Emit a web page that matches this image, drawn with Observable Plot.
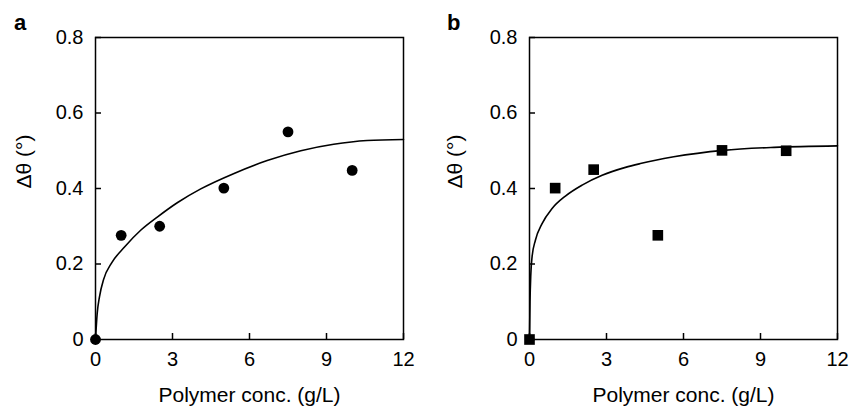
<!DOCTYPE html>
<html><head><meta charset="utf-8">
<script src="https://cdn.jsdelivr.net/npm/d3@7"></script>
<script src="https://cdn.jsdelivr.net/npm/@observablehq/plot@0.6"></script>
<style>
body{margin:0;background:#fff;font-family:"Liberation Sans",Arial,sans-serif;}
#wrap{position:relative;width:849px;height:409px;display:flex;}
.lab{position:absolute;font-weight:bold;font-size:22px;line-height:22px;color:#000;}
</style></head><body>
<div id="wrap"><div id="pa"></div><div id="pb"></div>
<div class="lab" style="left:14px;top:12px">a</div>
<div class="lab" style="left:447px;top:12px">b</div></div>
<script>
// measured data
const concA  = [0, 1, 2.5, 5, 7.5, 10];
const thetaA = [0, 0.276, 0.300, 0.401, 0.550, 0.448];
const concB  = [0, 1, 2.5, 5, 7.5, 10];
const thetaB = [0, 0.401, 0.450, 0.276, 0.501, 0.500];
// fitted curves
const fitAx = [0, 0.066, 0.155, 0.32, 0.63, 1.13, 1.77, 2.42, 3.2, 4.1, 5.4, 6.69, 8.0, 9.28, 10.58, 12];
const fitAy = [0, 0.069, 0.113, 0.160, 0.203, 0.245, 0.290, 0.325, 0.363, 0.399, 0.440, 0.474, 0.500, 0.517, 0.527, 0.530];
const fitBx = [0, 0.02, 0.05, 0.1, 0.23, 0.49, 0.88, 1.4, 2.05, 2.83, 3.74, 4.32, 4.91, 5.62, 7.55, 9.53, 12];
const fitBy = [0, 0.100, 0.170, 0.219, 0.263, 0.307, 0.347, 0.380, 0.409, 0.435, 0.456, 0.466, 0.475, 0.484, 0.501, 0.509, 0.513];
const xTicks = [0, 3, 6, 9, 12];
const yTicks = [0, 0.2, 0.4, 0.6, 0.8];
const xLabel = "Polymer conc. (g/L)";
const yLabel = "Δθ (°)";

const zipXY = (xs, ys) => xs.map((x, i) => ({x, y: ys[i]}));

function panel({width, marginLeft, marginRight, pts, fit, symbol, r, yTitleDx}) {
  return Plot.plot({
    width, height: 409, marginLeft, marginRight, marginTop: 37, marginBottom: 70,
    style: {fontFamily: "Liberation Sans, Arial, sans-serif", fontSize: "20px", color: "#000", background: "#fff", overflow: "visible"},
    x: {domain: [0, 12]},
    y: {domain: [0, 0.8]},
    marks: [
      Plot.frame({stroke: "#000", strokeWidth: 1.5}),
      Plot.axisX({ticks: xTicks, tickSize: -6, tickPadding: 18.5, label: null, strokeWidth: 1.5, fontSize: 20}),
      Plot.axisY({ticks: yTicks, tickSize: -6, tickPadding: 18, label: null, strokeWidth: 1.5, fontSize: 20,
                  tickFormat: d => d === 0 ? "0" : d.toFixed(1)}),
      Plot.line(fit, {x: "x", y: "y", curve: "monotone-x", stroke: "#000", strokeWidth: 1.6}),
      Plot.dot(pts, {x: "x", y: "y", symbol, r, fill: "#000", stroke: null}),
      Plot.text([xLabel], {text: d => d, frameAnchor: "bottom", dy: 56, fontSize: 21, lineAnchor: "middle"}),
      Plot.text([yLabel], {text: d => d, frameAnchor: "left", dx: yTitleDx, rotate: -90, fontSize: 21, lineAnchor: "middle"})
    ]
  });
}

document.getElementById("pa").append(panel({
  width: 440, marginLeft: 95, marginRight: 37,
  pts: zipXY(concA, thetaA), fit: zipXY(fitAx, fitAy), symbol: "circle", r: 5.4, yTitleDx: -71
}));
document.getElementById("pb").append(panel({
  width: 409, marginLeft: 89, marginRight: 12,
  pts: zipXY(concB, thetaB), fit: zipXY(fitBx, fitBy), symbol: "square", r: 6, yTitleDx: -74
}));
</script>
</body></html>
